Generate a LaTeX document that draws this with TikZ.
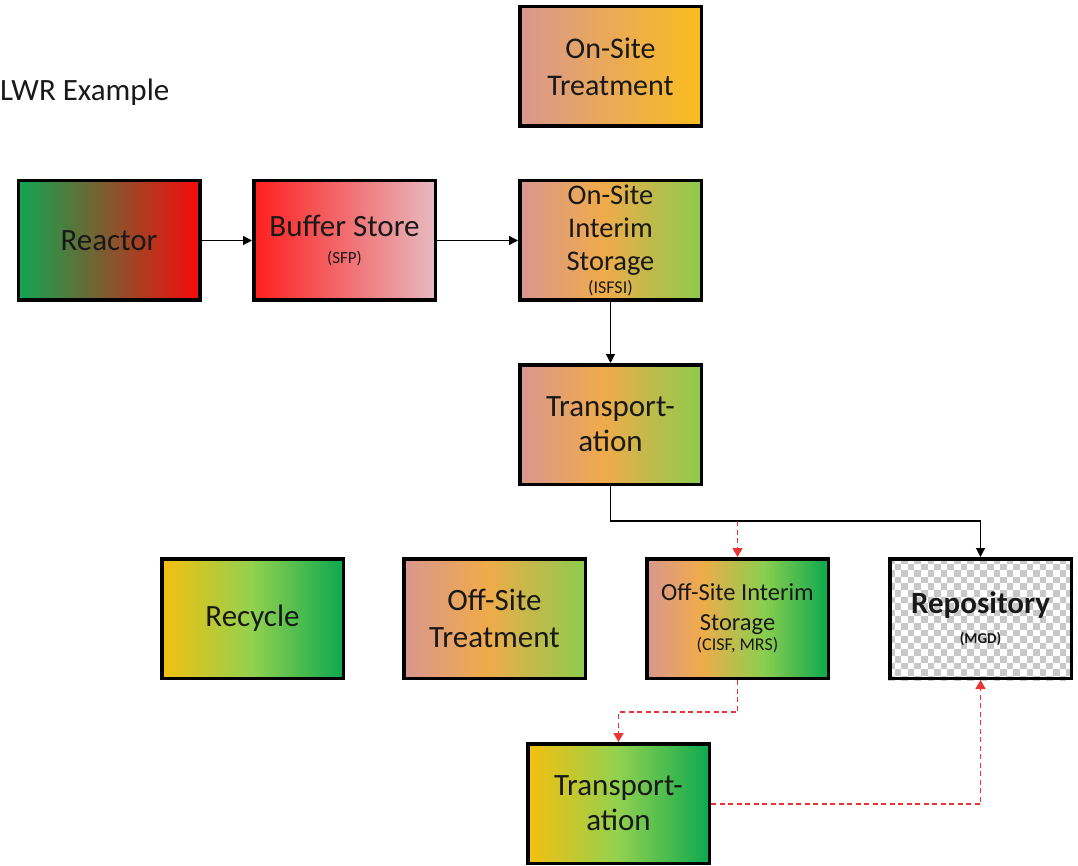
\documentclass[tikz,border=0pt]{standalone}
\usepackage{fontspec}
\setmainfont{Carlito}
\usetikzlibrary{arrows.meta}
\pgfdeclarehorizontalshading{shRG}{100bp}{rgb(0bp)=(0.06,0.65,0.32); rgb(25bp)=(0.06,0.65,0.32); rgb(75bp)=(0.97,0.04,0.04); rgb(100bp)=(0.97,0.04,0.04)}
\pgfdeclarehorizontalshading{shRP}{100bp}{rgb(0bp)=(1,0.12,0.12); rgb(25bp)=(1,0.12,0.12); rgb(75bp)=(0.90,0.73,0.75); rgb(100bp)=(0.90,0.73,0.75)}
\pgfdeclarehorizontalshading{shPO}{100bp}{rgb(0bp)=(0.85,0.59,0.56); rgb(25bp)=(0.85,0.59,0.56); rgb(75bp)=(0.98,0.74,0.12); rgb(100bp)=(0.98,0.74,0.12)}
\pgfdeclarehorizontalshading{shPOG}{100bp}{rgb(0bp)=(0.85,0.59,0.56); rgb(25bp)=(0.85,0.59,0.56); rgb(48bp)=(0.94,0.67,0.29); rgb(75bp)=(0.55,0.80,0.30); rgb(100bp)=(0.55,0.80,0.30)}
\pgfdeclarehorizontalshading{shPOGG}{100bp}{rgb(0bp)=(0.85,0.59,0.56); rgb(25bp)=(0.85,0.59,0.56); rgb(40bp)=(0.94,0.67,0.29); rgb(57bp)=(0.55,0.81,0.31); rgb(75bp)=(0.05,0.66,0.31); rgb(100bp)=(0.05,0.66,0.31)}
\pgfdeclarehorizontalshading{shYG}{100bp}{rgb(0bp)=(0.96,0.75,0.06); rgb(25bp)=(0.96,0.75,0.06); rgb(50bp)=(0.57,0.82,0.31); rgb(75bp)=(0.05,0.66,0.31); rgb(100bp)=(0.05,0.66,0.31)}
\definecolor{txt}{RGB}{25,25,25}
\definecolor{dred}{RGB}{232,52,52}
\definecolor{chk}{RGB}{200,200,200}
\tikzset{
  box/.style={draw=black, line width=3.5pt, minimum width=181.5pt, minimum height=119.5pt, inner sep=0pt, align=center, text=txt, font=\fontsize{31}{35}\selectfont},
  arr/.style={draw=black, line width=1.2pt, -{Triangle[length=9pt,width=9pt]}},
  rarr/.style={draw=dred, line width=1.5pt, dash pattern=on 5pt off 3.5pt, -{Triangle[length=9pt,width=10pt]}},
}
\newcommand{\sm}[2]{{\fontsize{#1}{#1}\selectfont #2}}
\begin{document}
\begin{tikzpicture}[x=1pt,y=-1pt]
\useasboundingbox (0,0) rectangle (1078,866);
\node[anchor=west, text=txt, font=\fontsize{31}{35}\selectfont, inner sep=0pt] (lwr) at (0,92) {LWR Example};
% checkerboard
\begin{scope}
\clip (888,557) rectangle (1073,680);
\fill[white] (888,557) rectangle (1073,680);
\foreach \i in {0,...,28}{\foreach \j in {0,...,19}{
  \pgfmathtruncatemacro\p{mod(\i+\j,2)}
  \ifnum\p=0 \fill[chk] ({888+\i*6.6},{557+\j*6.6}) rectangle ++(6.6,6.6);\fi}}
\end{scope}
\node[box, shading=shPO, font=\fontsize{30}{37}\selectfont] (ost) at (610.5,66.5) {On-Site\\Treatment};
\node[box, shading=shRG] (reactor) at (109,240.5) {Reactor};
\node[box, shading=shRP] (buffer) at (344.5,240.5) {Buffer Store\\[-8pt]\sm{17}{(SFP)}};
\node[box, shading=shPOG, font=\fontsize{28.5}{33}\selectfont] (osis) at (610.5,240.5) {On-Site\\Interim\\Storage\\[-10pt]\sm{18}{(ISFSI)}};
\node[box, shading=shPOG] (trans1) at (610.5,424.5) {Transport-\\ation};
\node[box, shading=shYG] (recycle) at (252.5,618.5) {Recycle};
\node[box, shading=shPOG, font=\fontsize{31}{37}\selectfont] (offtreat) at (494.5,618.5) {Off-Site\\Treatment};
\node[box, shading=shPOGG, font=\fontsize{24.5}{30}\selectfont] (offis) at (737.5,618.5) {Off-Site Interim\\Storage\\[-10pt]\sm{18}{(CISF, MRS)}};
\node[box, font=\fontsize{31}{32}\selectfont\bfseries] (repo) at (980.5,618.5) {Repository\\[-2pt]\sm{15}{(MGD)}};
\node[box, shading=shYG] (trans2) at (618.5,803.5) {Transport-\\ation};
% connectors
\draw[arr] (reactor) -- (buffer);
\draw[arr] (buffer) -- (osis);
\draw[arr] (osis) -- (trans1);
\coordinate (j1) at (610.5,521);
\draw[arr] (trans1.south) -- (j1) -| (repo.north);
\coordinate (j2) at (offis.north |- j1);
\draw[rarr] (j2) -- (offis.north);
\draw[rarr] (offis.south) -- ++(0,32) -| (trans2.north);
\draw[rarr] ([yshift=-0.5pt]trans2.east) -| (repo.south);
\end{tikzpicture}
\end{document}
